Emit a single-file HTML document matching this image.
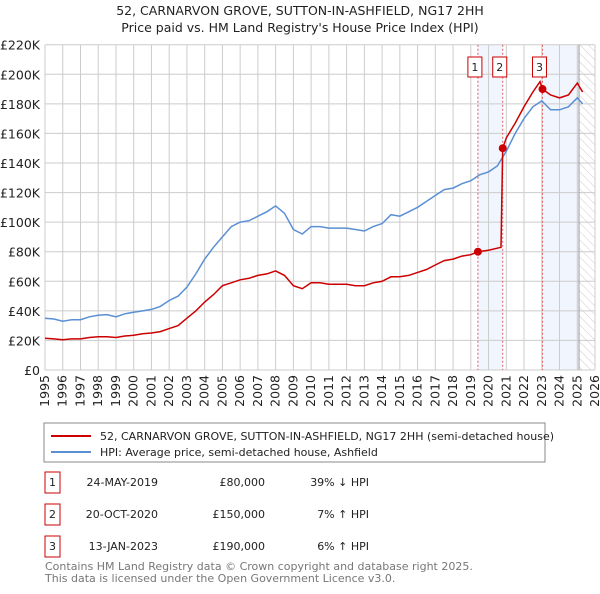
<!DOCTYPE html>
<html><head><meta charset="utf-8"><style>
body{margin:0;background:#fff;font-family:"DejaVu Sans","Liberation Sans",sans-serif;}
svg text{font-family:"DejaVu Sans","Liberation Sans",sans-serif;}
</style></head><body>
<svg id="c" width="600" height="590" xmlns="http://www.w3.org/2000/svg">
<defs><pattern id="hatch" width="6" height="6" patternUnits="userSpaceOnUse" patternTransform="rotate(-45)"><line x1="0" y1="0" x2="0" y2="6" stroke="#ccc" stroke-width="1"/></pattern></defs>
<text x="300" y="15" text-anchor="middle" font-size="12.5" fill="#222">52, CARNARVON GROVE, SUTTON-IN-ASHFIELD, NG17 2HH</text>
<text x="300" y="32" text-anchor="middle" font-size="12.5" fill="#222">Price paid vs. HM Land Registry's House Price Index (HPI)</text>
<g id="plot"></g>
<rect x="44" y="423" width="501" height="39" fill="#fff" stroke="#888"/>
<line x1="51" y1="436" x2="91" y2="436" stroke="#cc0000" stroke-width="2"/>
<text x="100" y="440" font-size="11" fill="#222">52, CARNARVON GROVE, SUTTON-IN-ASHFIELD, NG17 2HH (semi-detached house)</text>
<line x1="51" y1="452" x2="91" y2="452" stroke="#5b8fd4" stroke-width="2"/>
<text x="100" y="456" font-size="11" fill="#222">HPI: Average price, semi-detached house, Ashfield</text>
<g font-size="11" fill="#222">
<rect x="45" y="472" width="15" height="21" fill="none" stroke="#cc0000"/><text x="52.5" y="486" text-anchor="middle">1</text>
<text x="158" y="486" text-anchor="end">24-MAY-2019</text><text x="265" y="486" text-anchor="end">£80,000</text><text x="369" y="486" text-anchor="end">39% ↓ HPI</text>
<rect x="45" y="504" width="15" height="21" fill="none" stroke="#cc0000"/><text x="52.5" y="518" text-anchor="middle">2</text>
<text x="158" y="518" text-anchor="end">20-OCT-2020</text><text x="265" y="518" text-anchor="end">£150,000</text><text x="369" y="518" text-anchor="end">7% ↑ HPI</text>
<rect x="45" y="536" width="15" height="21" fill="none" stroke="#cc0000"/><text x="52.5" y="550" text-anchor="middle">3</text>
<text x="158" y="550" text-anchor="end">13-JAN-2023</text><text x="265" y="550" text-anchor="end">£190,000</text><text x="369" y="550" text-anchor="end">6% ↑ HPI</text>
</g>
<text x="45" y="570" font-size="11" fill="#777">Contains HM Land Registry data © Crown copyright and database right 2025.</text>
<text x="45" y="582" font-size="11" fill="#777">This data is licensed under the Open Government Licence v3.0.</text>
</svg>
<script>
const yTicks=[0,20,40,60,80,100,120,140,160,180,200,220];
const years=[1995,1996,1997,1998,1999,2000,2001,2002,2003,2004,2005,2006,2007,2008,2009,2010,2011,2012,2013,2014,2015,2016,2017,2018,2019,2020,2021,2022,2023,2024,2025,2026];
const hpiT=[1995,1995.5,1996,1996.5,1997,1997.5,1998,1998.5,1999,1999.5,2000,2000.5,2001,2001.5,2002,2002.5,2003,2003.5,2004,2004.5,2005,2005.5,2006,2006.5,2007,2007.5,2008,2008.5,2009,2009.5,2010,2010.5,2011,2011.5,2012,2012.5,2013,2013.5,2014,2014.5,2015,2015.5,2016,2016.5,2017,2017.5,2018,2018.5,2019,2019.5,2020,2020.5,2021,2021.5,2022,2022.5,2023,2023.5,2024,2024.5,2025,2025.3];
const hpiV=[35,34.5,33,34,34,36,37,37.5,36,38,39,40,41,43,47,50,56,65,75,83,90,97,100,101,104,107,111,106,95,92,97,97,96,96,96,95,94,97,99,105,104,107,110,114,118,122,123,126,128,132,134,138,148,160,170,178,182,176,176,178,184,180];
const redT=[1995,1995.5,1996,1996.5,1997,1997.5,1998,1998.5,1999,1999.5,2000,2000.5,2001,2001.5,2002,2002.5,2003,2003.5,2004,2004.5,2005,2005.5,2006,2006.5,2007,2007.5,2008,2008.5,2009,2009.5,2010,2010.5,2011,2011.5,2012,2012.5,2013,2013.5,2014,2014.5,2015,2015.5,2016,2016.5,2017,2017.5,2018,2018.5,2019,2019.4,2020,2020.7,2020.8,2021,2021.5,2022,2022.5,2022.9,2023.04,2023.5,2024,2024.5,2025,2025.3];
const redV=[21.5,21,20.5,21,21,22,22.5,22.5,22,23,23.5,24.5,25,26,28,30,35,40,46,51,57,59,61,62,64,65,67,64,57,55,59,59,58,58,58,57,57,59,60,63,63,64,66,68,71,74,75,77,78,80,81,83,150,157,167,178,188,195,190,186,184,186,194,188];
const saleT=[2019.4,2020.8,2023.04];
const saleV=[80,150,190];
const saleLabels=["1","2","3"];
const X0=45,X1=595,Y0=370,Y1=44.7;
const sx=t=>X0+(t-1995)/(2026-1995)*(X1-X0);
const sy=v=>Y0-v/220*(Y0-Y1);
const NS="http://www.w3.org/2000/svg";
const g=document.getElementById('plot');
function mk(tag,attrs){const e=document.createElementNS(NS,tag);for(const k in attrs)e.setAttribute(k,attrs[k]);g.appendChild(e);return e;}
let e;
e=mk('rect',{x:sx(2019.4),y:Y1,width:sx(2020.8)-sx(2019.4),height:Y0-Y1,fill:'#f1f5fd'});


e=mk('rect',{x:sx(2023.04),y:Y1,width:sx(2025.1)-sx(2023.04),height:Y0-Y1,fill:'#f1f5fd'});


e=mk('rect',{x:sx(2025.1),y:Y1,width:X1-sx(2025.1),height:Y0-Y1,fill:'url(#hatch)'});


yTicks.forEach(v=>{
 e=mk('line',{x1:X0,x2:X1,y1:sy(v),y2:sy(v),stroke:'#ccc'});
 
 
 e=mk('text',{x:X0-5,y:sy(v)+5,'text-anchor':'end','font-size':'12.5',fill:'#222'});
 e.textContent=v===0?'£0':'£'+v+'K';
 
 
});
years.forEach(y=>{
 e=mk('line',{x1:sx(y),x2:sx(y),y1:Y1,y2:Y0,stroke:'#ccc'});
 
 
 e=mk('text',{x:0,y:0,'text-anchor':'end','font-size':'12.5',fill:'#222',transform:`translate(${sx(y)+4},${Y0+5}) rotate(-90)`});
 e.textContent=y;
 
 
});
e=mk('line',{x1:sx(2025.1),x2:sx(2025.1),y1:Y1,y2:Y0,stroke:'#999'});


saleT.forEach((t,i)=>{
 e=mk('line',{x1:sx(t),x2:sx(t),y1:Y1,y2:Y0,stroke:'#e06060','stroke-dasharray':'2,2'});
 
 
 e=mk('rect',{x:sx(t)-10,y:57,width:14,height:20,fill:'#fff',stroke:'#cc0000'});
 
 
 e=mk('text',{x:sx(t)-3,y:71,'text-anchor':'middle','font-size':'11',fill:'#222'});
 e.textContent=saleLabels[i];
 
 
});
const path=(T,V)=>T.map((t,i)=>(i?'L':'M')+sx(t).toFixed(1)+','+sy(V[i]).toFixed(1)).join('');
e=mk('path',{d:path(hpiT,hpiV),fill:'none',stroke:'#5b8fd4','stroke-width':1.5});


e=mk('path',{d:path(redT,redV),fill:'none',stroke:'#cc0000','stroke-width':1.5});


saleT.forEach((t,i)=>{
 e=mk('circle',{cx:sx(t),cy:sy(saleV[i]),r:4,fill:'#cc0000'});
 
 
});
</script>
</body></html>
